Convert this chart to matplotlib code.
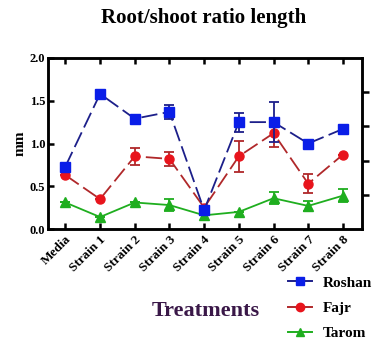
import matplotlib
matplotlib.use("Agg")
import matplotlib.pyplot as plt
from matplotlib.lines import Line2D

plt.rcParams['font.family'] = ['Liberation Serif', 'DejaVu Serif']
plt.rcParams['font.weight'] = 'bold'

categories = ["Media", "Strain 1", "Strain 2", "Strain 3", "Strain 4",
              "Strain 5", "Strain 6", "Strain 7", "Strain 8"]

roshan = [0.73, 1.58, 1.29, 1.37, 0.22, 1.25, 1.25, 1.00, 1.17]
roshan_err = [0.0, 0.0, 0.0, 0.08, 0.0, 0.11, 0.23, 0.0, 0.0]

fajr = [0.63, 0.35, 0.85, 0.82, 0.25, 0.85, 1.12, 0.53, 0.87]
fajr_err = [0.0, 0.0, 0.10, 0.08, 0.0, 0.18, 0.16, 0.11, 0.0]

tarom = [0.31, 0.14, 0.31, 0.28, 0.16, 0.20, 0.36, 0.27, 0.39]
tarom_err = [0.0, 0.0, 0.0, 0.07, 0.0, 0.0, 0.07, 0.06, 0.08]

y_ticks = [0.0, 0.5, 1.0, 1.5, 2.0]
right_ticks = [0.4, 0.8, 1.2, 1.6]

fig = plt.figure(figsize=(3.72, 3.39), dpi=100)
ax = fig.add_axes([48 / 372, 1 - 229 / 339, (362 - 48) / 372, (229 - 58) / 339])

x = list(range(len(categories)))

series = [
    ("Tarom", tarom, tarom_err, "#1fae1f", "#1fae1f", "^", (0, ()), 1),
    ("Fajr", fajr, fajr_err, "#e8141c", "#b0282a", "o", (0, (9, 3)), 2),
    ("Roshan", roshan, roshan_err, "#0a1ee8", "#1c1f8a", "s", (0, (9, 3)), 3),
]

for name, vals, errs, mcol, lcol, mk, ls, z in series:
    ax.plot(x, vals, color=lcol, linestyle=ls, linewidth=1.3, zorder=z)
    ax.errorbar(x, vals, yerr=errs, fmt="none", ecolor=lcol, elinewidth=1.3,
                capsize=3.5, capthick=1.3, zorder=z)
    ax.plot(x, vals, linestyle="none", marker=mk, markersize=6.5,
            markerfacecolor=mcol, markeredgecolor=mcol, zorder=z + 0.5)

ax.set_xlim(-0.5, 8.55)
ax.set_ylim(0, 2.0)
ax.set_yticks(y_ticks)
ax.set_yticklabels([f"{v:.1f}" for v in y_ticks], fontsize=9, fontweight="bold")
ax.set_xticks(x)
ax.set_xticklabels(categories, rotation=45, ha="right", rotation_mode="anchor",
                   fontsize=9.5, fontweight="bold")
ax.tick_params(axis="x", direction="in", length=4, width=1.8, top=True, pad=3)
ax.tick_params(axis="y", direction="in", length=4, width=1.8, pad=2)
for s in ax.spines.values():
    s.set_linewidth(1.8)

ax2 = ax.twinx()
ax2.set_ylim(0, 2.0)
ax2.set_yticks(right_ticks)
ax2.set_yticklabels([])
ax2.tick_params(axis="y", direction="out", length=5, width=1.8)
for s in ax2.spines.values():
    s.set_linewidth(1.8)

ax.set_ylabel("mm", fontsize=11, fontweight="bold", labelpad=2)

fig.text(204 / 372, 1 - 18 / 339, "Root/shoot ratio length", ha="center",
         va="center", fontsize=15, fontweight="bold")
fig.text(206 / 372, 1 - 311 / 339, "Treatments", ha="center", va="center",
         fontsize=16, fontweight="bold", color="#3a1848")

handles = [
    Line2D([], [], color="#1c1f8a", marker="s", markerfacecolor="#0a1ee8",
           markeredgecolor="#0a1ee8", markersize=6, linewidth=1.4),
    Line2D([], [], color="#b0282a", marker="o", markerfacecolor="#e8141c",
           markeredgecolor="#e8141c", markersize=6, linewidth=1.4),
    Line2D([], [], color="#1fae1f", marker="^", markerfacecolor="#1fae1f",
           markeredgecolor="#1fae1f", markersize=6, linewidth=1.4),
]
fig.legend(handles, ["Roshan", "Fajr", "Tarom"], loc="upper left",
           bbox_to_anchor=(288 / 372, 1 - 276 / 339), frameon=False,
           prop={"family": "Liberation Serif", "weight": "bold", "size": 11},
           handlelength=1.6, handletextpad=0.7, labelspacing=0.75,
           borderaxespad=0, borderpad=0)

fig.savefig("out.png", dpi=100)
